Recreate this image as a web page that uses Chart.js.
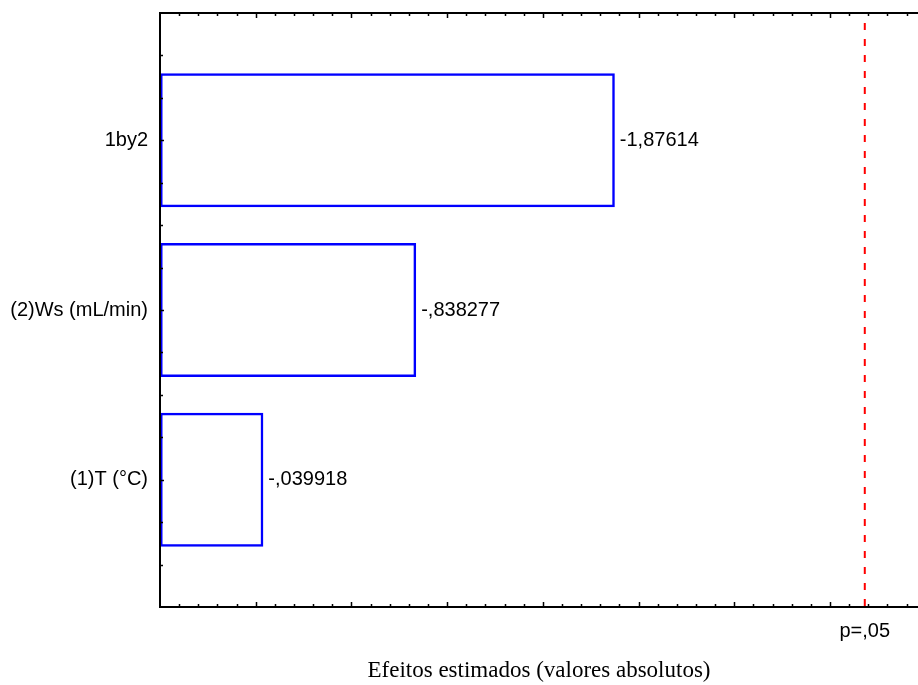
<!doctype html>
<html lang="pt">
<head>
<meta charset="utf-8">
<title>Pareto dos efeitos</title>
<style>
  * { margin: 0; padding: 0; }
  body { background: #fff; }
</style>
</head>
<body>
<canvas id="myChart" width="918" height="685"></canvas>
<script src="https://cdn.jsdelivr.net/npm/chart.js/dist/chart.umd.min.js"></script>
<script>
// setup
const categories = ['1by2', '(2)Ws (mL/min)', '(1)T (°C)'];
const effects = [-1.87614, -0.838277, -0.039918];   // estimated effects (signed)
const pCritical = 3.182;                           // t crit, p=,05
const pLabel = 'p=,05';
const xTitle = 'Efeitos estimados (valores absolutos)';
const xMin = -0.5, xMax = 3.46;
const yMin = -0.75, yMax = 2.75;

const sansFont = "'Liberation Sans', Arial, sans-serif";

// -1.87614 -> "-1,87614", -0.838277 -> "-,838277"
function fmt(v) {
  return String(v).replace('.', ',').replace(/^(-?)0,/, '$1,');
}

const data = {
  datasets: [{
    data: categories.map((c, i) => ({ x: Math.abs(effects[i]), y: i })),
    base: xMin,
    backgroundColor: 'rgba(255,255,255,0)',
    borderColor: '#0000ff',
    borderWidth: 2.5,
    borderSkipped: false,
    categoryPercentage: 1,
    barPercentage: 0.79
  }]
};

// frame, inward ticks, p line and value labels
const paretoDecor = {
  id: 'paretoDecor',
  afterDatasetsDraw(chart) {
    const { ctx, chartArea: a, scales: { x, y } } = chart;
    ctx.save();

    // value labels at bar ends
    const meta = chart.getDatasetMeta(0);
    ctx.fillStyle = '#000';
    ctx.font = '20px ' + sansFont;
    ctx.textAlign = 'left';
    ctx.textBaseline = 'middle';
    meta.data.forEach((bar, i) => {
      ctx.fillText(fmt(effects[i]), bar.x + 5, bar.y);
    });

    // frame (left, top, bottom)
    ctx.strokeStyle = '#000';
    ctx.lineWidth = 2;
    ctx.beginPath();
    ctx.moveTo(a.right, a.top);
    ctx.lineTo(a.left, a.top);
    ctx.lineTo(a.left, a.bottom);
    ctx.lineTo(a.right, a.bottom);
    ctx.stroke();

    // x ticks, top and bottom, pointing inward
    ctx.lineWidth = 1.5;
    ctx.beginPath();
    for (let k = Math.ceil(xMin * 10) + 1; k <= Math.floor(xMax * 10); k++) {
      const px = Math.round(x.getPixelForValue(k / 10)) + 0.5;
      const len = k % 5 === 0 ? 5 : 3;
      ctx.moveTo(px, a.bottom);
      ctx.lineTo(px, a.bottom - len);
      ctx.moveTo(px, a.top);
      ctx.lineTo(px, a.top + len);
    }
    // y ticks on the left axis
    for (let k = Math.ceil(yMin * 4) + 1; k < Math.floor(yMax * 4); k++) {
      const py = Math.round(y.getPixelForValue(k / 4)) + 0.5;
      const len = k % 4 === 0 ? 4 : 3;
      ctx.moveTo(a.left, py);
      ctx.lineTo(a.left + len, py);
    }
    ctx.stroke();

    // p = .05 reference line
    const pxp = x.getPixelForValue(pCritical);
    ctx.strokeStyle = '#ff0000';
    ctx.lineWidth = 2;
    ctx.setLineDash([7, 9]);
    ctx.beginPath();
    ctx.moveTo(pxp, a.top + 10);
    ctx.lineTo(pxp, a.bottom);
    ctx.stroke();
    ctx.setLineDash([]);

    ctx.fillStyle = '#000';
    ctx.textAlign = 'center';
    ctx.fillText(pLabel, pxp, a.bottom + 24);

    ctx.restore();
  }
};

// config
const config = {
  type: 'bar',
  data,
  options: {
    indexAxis: 'y',
    responsive: false,
    devicePixelRatio: 1,
    animation: false,
    layout: { padding: { top: 13, right: 0, bottom: 0, left: 0 } },
    plugins: {
      legend: { display: false },
      tooltip: { enabled: false }
    },
    scales: {
      x: {
        type: 'linear',
        position: 'bottom',
        min: xMin,
        max: xMax,
        border: { display: false },
        grid: { display: false },
        ticks: { display: false },
        title: {
          display: true,
          text: xTitle,
          color: '#000',
          font: { family: "'Liberation Serif', 'Times New Roman', serif", size: 23 },
          padding: { top: 0, bottom: 0 }
        },
        afterFit(scale) { scale.height = 78; }
      },
      y: {
        type: 'linear',
        position: 'left',
        reverse: true,
        offset: false,
        min: yMin,
        max: yMax,
        border: { display: false },
        grid: { drawOnChartArea: false, drawTicks: false },
        afterBuildTicks(scale) {
          scale.ticks = categories.map((c, i) => ({ value: i }));
        },
        ticks: {
          autoSkip: false,
          color: '#000',
          padding: 12,
          font: { family: sansFont, size: 20 },
          callback: (v) => categories[v]
        },
        afterFit(scale) {
          scale.width = 160;
          scale.paddingTop = 0;
          scale.paddingBottom = 0;
        }
      }
    }
  },
  plugins: [paretoDecor]
};

const myChart = new Chart(document.getElementById('myChart'), config);
</script>
</body>
</html>
